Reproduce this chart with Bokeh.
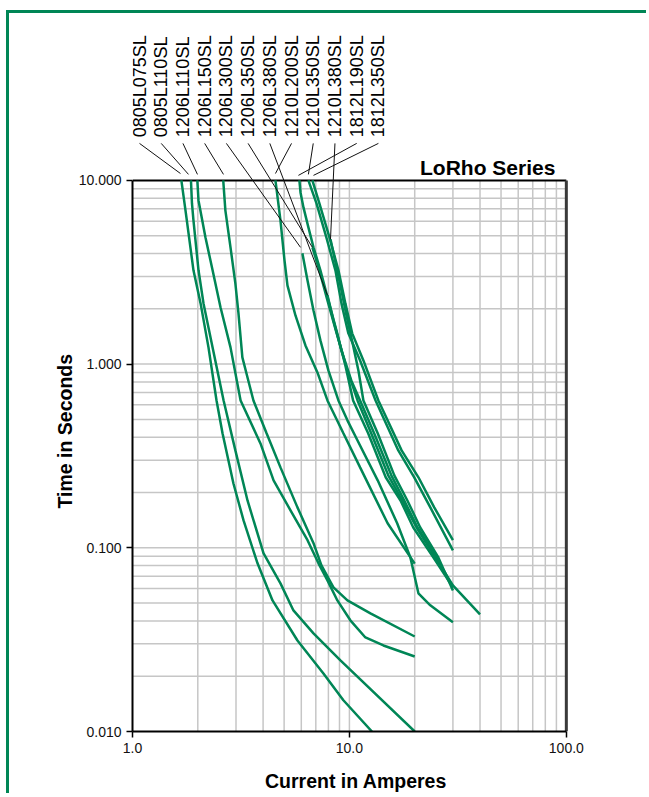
import numpy as np
from bokeh.plotting import figure
from bokeh.models import FixedTicker, PrintfTickFormatter, LabelSet, Title, ColumnDataSource
from bokeh.core.properties import value
from bokeh.embed import file_html
from bokeh.resources import INLINE

FONT = "Liberation Sans"
GREEN = "#008656"

# ---------------- axis / tick values ----------------
x_ticks = [1, 10, 100]
y_ticks = [0.01, 0.1, 1, 10]
x_grid_vals = [2, 3, 4, 5, 6, 7, 8, 9, 10, 20, 30, 40, 50, 60, 70, 80, 90]
y_grid_vals = [0.02, 0.03, 0.04, 0.05, 0.06, 0.07, 0.08, 0.09, 0.1,
               0.2, 0.3, 0.4, 0.5, 0.6, 0.7, 0.8, 0.9, 1,
               2, 3, 4, 5, 6, 7, 8, 9]
X_MIN, X_MAX = 1, 100
Y_MIN, Y_MAX = 0.01, 10
Y_TOP = 74.2      # head room above the chart for the part-number labels
X_END = 115       # small room right of the chart

# ---------------- series (current A, time s) ----------------
i_0805L075SL = [1.68, 1.755, 1.91, 2.06, 2.24, 2.44, 2.60, 2.92, 3.25, 3.77, 4.42, 5.76, 7.59, 9.38, 12.7]
t_0805L075SL = [10, 6.87, 3.24, 2.14, 1.233, 0.634, 0.42, 0.224, 0.141, 0.0823, 0.0517, 0.0313, 0.0207, 0.0148, 0.010]

i_0805L110SL = [1.86, 1.88, 1.91, 2.015, 2.125, 2.34, 2.63, 2.98, 3.39, 4.02, 4.81, 5.52, 6.83, 9.09, 20]
t_0805L110SL = [10, 7.49, 6.06, 3.24, 2.14, 1.233, 0.634, 0.339, 0.181, 0.0932, 0.064, 0.0456, 0.0342, 0.0244, 0.010]

i_1206L110SL = [1.99, 2.015, 2.17, 2.34, 2.545, 2.83, 3.15, 3.89, 4.47, 5.35, 6.41, 7.20, 7.92, 8.80, 10.1, 11.85, 14.35, 20]
t_1206L110SL = [10, 7.78, 4.89, 3.24, 2.04, 1.233, 0.634, 0.37, 0.233, 0.16, 0.11, 0.0823, 0.0665, 0.0517, 0.0403, 0.0325, 0.0294, 0.0256]

i_1206L150SL = [2.62, 2.68, 2.83, 2.98, 3.08, 3.21, 3.39, 3.61, 4.15, 4.81, 5.76, 6.83, 7.43, 8.44, 9.79, 12.5, 20]
t_1206L150SL = [10, 6.87, 4.32, 2.75, 1.888, 1.088, 0.846, 0.634, 0.42, 0.274, 0.166, 0.106, 0.0802, 0.0609, 0.0517, 0.044, 0.0329]

i_1206L300SL = [6.07, 6.41, 6.83, 7.35, 8.00, 8.90, 9.79, 10.9, 13.5, 16.6, 19.1, 20.8, 23.6, 30]
t_1206L300SL = [4.01, 2.85, 1.96, 1.346, 0.924, 0.634, 0.494, 0.384, 0.233, 0.136, 0.0886, 0.0565, 0.0486, 0.0393]

i_1206L350SL = [6.75, 7.27, 7.92, 8.71, 9.69, 10.9, 12.6, 15.1, 17.5, 20.4, 24.9, 30, 40]
t_1206L350SL = [4.32, 3.24, 2.22, 1.488, 0.959, 0.634, 0.42, 0.248, 0.181, 0.129, 0.0886, 0.0624, 0.0434]

i_1206L380SL = [7.92, 8.44, 9.19, 10.2, 11.2, 13.0, 15.6, 17.9, 20.6, 25.2, 30]
t_1206L380SL = [2.37, 1.73, 1.187, 0.815, 0.634, 0.42, 0.248, 0.181, 0.129, 0.0886, 0.0609]

i_1210L200SL = [4.56, 4.81, 5.02, 5.18, 5.64, 6.27, 7.12, 7.92, 9.38, 11.2, 15.0, 20]
t_1210L200SL = [10, 6.06, 3.67, 2.68, 1.84, 1.264, 0.901, 0.634, 0.42, 0.274, 0.136, 0.082]

i_1210L350SL = [6.47, 7.05, 7.83, 8.62, 9.19, 9.89, 11.2, 13.2, 16.8, 19.9, 23.6, 30]
t_1210L350SL = [10, 7.49, 4.89, 3.24, 2.14, 1.47, 1.047, 0.634, 0.339, 0.242, 0.166, 0.0968]

i_1210L380SL = [8.18, 8.62, 9.09, 9.69, 10.4, 11.0, 11.6, 13.5, 16.1, 18.5, 21.2, 25.7, 30]
t_1210L380SL = [4.78, 3.58, 2.68, 1.84, 1.264, 0.924, 0.634, 0.42, 0.248, 0.181, 0.129, 0.0886, 0.0586]

i_1812L190SL = [5.88, 5.95, 6.14, 6.47, 6.83, 7.35, 8.00, 8.71, 9.58, 10.4, 12.2, 14.7, 17.2, 19.7, 24.4, 30]
t_1812L190SL = [10, 8.60, 7.13, 5.55, 4.32, 3.24, 2.22, 1.525, 0.984, 0.634, 0.42, 0.242, 0.181, 0.129, 0.0886, 0.0609]

i_1812L350SL = [6.75, 7.27, 8.09, 8.90, 9.58, 10.3, 11.6, 13.6, 17.4, 20.8, 24.6, 30]
t_1812L350SL = [10, 7.49, 4.89, 3.24, 2.14, 1.47, 1.047, 0.634, 0.339, 0.242, 0.166, 0.11]

part_names = ["0805L075SL", "0805L110SL", "1206L110SL", "1206L150SL", "1206L300SL",
              "1206L350SL", "1206L380SL", "1210L200SL", "1210L350SL", "1210L380SL",
              "1812L190SL", "1812L350SL"]
series = [
    (i_0805L075SL, t_0805L075SL), (i_0805L110SL, t_0805L110SL),
    (i_1206L110SL, t_1206L110SL), (i_1206L150SL, t_1206L150SL),
    (i_1206L300SL, t_1206L300SL), (i_1206L350SL, t_1206L350SL),
    (i_1206L380SL, t_1206L380SL), (i_1210L200SL, t_1210L200SL),
    (i_1210L350SL, t_1210L350SL), (i_1210L380SL, t_1210L380SL),
    (i_1812L190SL, t_1812L190SL), (i_1812L350SL, t_1812L350SL),
]

# points on the curves the leader lines point to (current A, time s)
leader_i = [1.664, 1.812, 1.993, 2.627, 5.95, 6.75, 7.92, 4.56, 6.47, 8.18, 5.82, 6.83]
leader_t = [10.9, 10.78, 10.78, 10.78, 4.32, 4.32, 2.37, 10.9, 10.78, 4.78, 10.65, 10.65]

# ---------------- figure ----------------
W, H = 640, 783
p = figure(width=W, height=H, x_axis_type="log", y_axis_type="log",
           x_range=(X_MIN, X_END), y_range=(Y_MIN, Y_TOP),
           output_backend="svg", toolbar_location=None,
           min_border_left=123, min_border_right=W - 570,
           min_border_top=7, min_border_bottom=H - 718)
p.styles = {"border-left": f"3px solid {GREEN}", "border-top": f"3px solid {GREEN}",
            "margin-left": "6px", "margin-top": "10px"}
p.grid.visible = False
p.outline_line_color = None
p.background_fill_color = "white"
p.border_fill_color = "white"

# grid lines
p.segment(x0=x_grid_vals, y0=Y_MIN, x1=x_grid_vals, y1=Y_MAX,
          line_color="#c6c6c6", line_width=1.5)
p.segment(x0=X_MIN, y0=y_grid_vals, x1=X_MAX, y1=y_grid_vals,
          line_color="#c6c6c6", line_width=1.5)
# top and right edges of the chart box
p.segment(x0=[X_MIN], y0=[Y_MAX], x1=[X_MAX], y1=[Y_MAX], line_color="black", line_width=2)
p.segment(x0=[X_MAX], y0=[Y_MIN], x1=[X_MAX], y1=[Y_MAX], line_color="#3a3a3a", line_width=3)

# curves
for (ci, ti) in series:
    p.line(ci, ti, line_color=GREEN, line_width=2.5)

# part-number labels and leader lines
n = len(part_names)
lab_x = [10 ** (0.0323 + k * 0.10012) for k in range(n)]
LAB_T = 17.15
LEAD_T0 = 15.9
p.segment(x0=lab_x, y0=LEAD_T0, x1=leader_i, y1=leader_t, line_color="#111111", line_width=1)
lab_src = ColumnDataSource(dict(x=lab_x, y=[LAB_T] * n, text=part_names))
p.add_layout(LabelSet(x="x", y="y", text="text", source=lab_src, angle=np.pi / 2,
                      text_align="left", text_baseline="middle",
                      text_font=value(FONT), text_font_size="18px", text_color="black"))

# series title
p.text(x=[89], y=[10.2], text=["LoRho Series"], text_align="right", text_baseline="bottom",
       text_font=value(FONT), text_font_size="21px", text_font_style="bold", text_color="black")

# y axis title, in the left panel next to the tick labels
p.add_layout(Title(text="Time in Seconds", align="left", vertical_align="bottom",
                   offset=223, standoff=0, text_font=FONT, text_font_size="19.5px",
                   text_font_style="bold", text_color="black"), "left")

# axes
p.xaxis.ticker = FixedTicker(ticks=x_ticks, minor_ticks=[])
p.yaxis.ticker = FixedTicker(ticks=y_ticks, minor_ticks=[])
p.xaxis.formatter = PrintfTickFormatter(format="%.1f")
p.yaxis.formatter = PrintfTickFormatter(format="%.3f")
p.xaxis.bounds = (X_MIN, X_MAX)
p.yaxis.bounds = (Y_MIN, Y_MAX)
p.xaxis.axis_label = "Current in Amperes"
for ax in (p.xaxis[0], p.yaxis[0]):
    ax.axis_line_width = 2
    ax.axis_line_color = "black"
    ax.major_tick_line_width = 1.5
    ax.major_tick_line_color = "black"
    ax.major_tick_out = 6
    ax.major_tick_in = 0
    ax.minor_tick_line_color = None
    ax.major_label_text_font = FONT
    ax.major_label_text_font_size = "14px"
    ax.major_label_text_color = "#111111"
    ax.major_label_standoff = 5
    ax.axis_label_text_font = FONT
    ax.axis_label_text_font_size = "19.5px"
    ax.axis_label_text_font_style = "bold"
    ax.axis_label_text_color = "black"
p.xaxis.axis_label_standoff = 14

open("out.html", "w").write(file_html(p, INLINE))
